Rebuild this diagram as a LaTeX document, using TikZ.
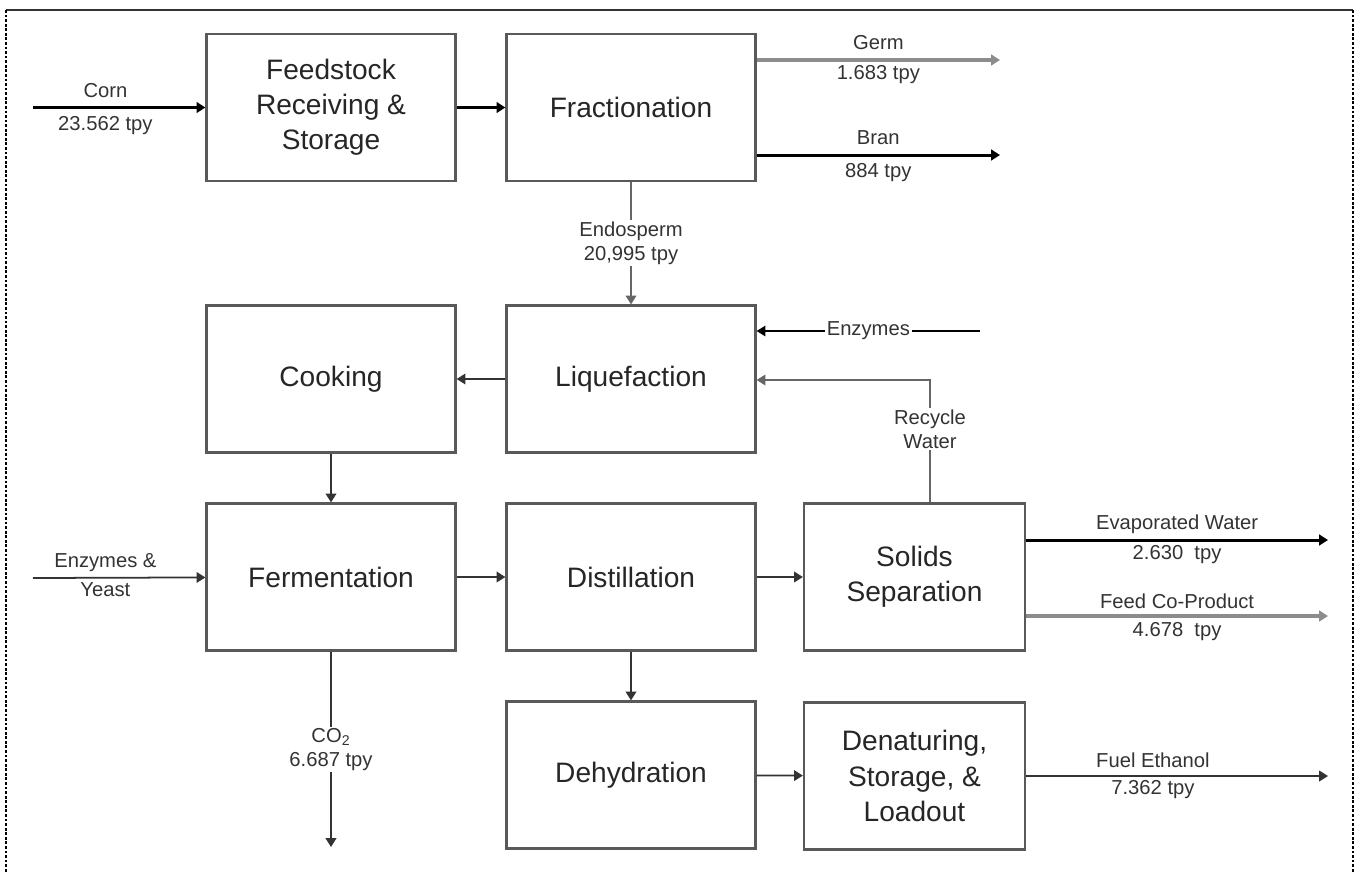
\documentclass[tikz,border=0pt]{standalone}
\usepackage{fontspec}
\setmainfont{Liberation Sans}
\usetikzlibrary{arrows.meta}

\tikzset{
  unit/.style={draw=black!65,line width=1.3pt,fill=white,minimum width=4.98cm,
    minimum height=2.94cm,inner sep=0pt,align=center,text=black!85,
    font=\fontsize{16}{20}\selectfont},
  lbl/.style={text=black!80,align=center,font=\fontsize{11.5}{13.5}\selectfont,inner sep=1pt},
  up/.style={lbl,above=4pt},
  down/.style={lbl,below=3pt},
  flow/.style={-{Triangle[length=5pt,width=6pt]},draw=black!80,line width=1pt},
  bigflow/.style={flow,draw=black,line width=1.7pt},
  grayflow/.style={flow,draw=black!45,line width=1.9pt},
  thinflow/.style={flow,draw=black,line width=0.7pt}
}

\begin{document}
\begin{tikzpicture}[x=0.02cm,y=-0.02cm]
		\useasboundingbox (0,0) rectangle (1361,873);
		
		% Frame
		\draw[black!80,line width=1.3pt] (6,10) -- (1353,10);
		\draw[black,densely dotted,line width=1.6pt] (6,10) -- (6,873);
		\draw[black,densely dotted,line width=1.6pt] (1353,10) -- (1353,873);
		
		% Process units
		\node[unit] (feed) at (331,107.5) {Feedstock\\Receiving \&\\Storage};
		\node[unit] (frac) at (631,107.5) {Fractionation};
		\node[unit] (cook) at (331,379) {Cooking};
		\node[unit] (liq) at (631,379) {Liquefaction};
		\node[unit] (ferm) at (331,577) {Fermentation};
		\node[unit] (dist) at (631,577) {Distillation};
		\node[unit,minimum width=4.42cm] (solid) at (914.5,577) {Solids\\Separation};
		\node[unit] (dehyd) at (631,775) {Dehydration};
		\node[unit,minimum width=4.42cm] (denat) at (914.5,776) {Denaturing,\\Storage, \&\\Loadout};
		
		% Free ends of streams
		\coordinate (CornIn) at (33,107.5);
		\coordinate (GermOut) at (1000,60);
		\coordinate (BranOut) at (1000,155);
		\coordinate (EnzIn) at (980,331);
		\coordinate (RW) at (930,380);
		\coordinate (YeastIn) at (33,578);
		\coordinate (EvapOut) at (1328,540);
		\coordinate (FeedOut) at (1328,616);
		\coordinate (CO2Out) at (331,847);
		\coordinate (FuelOut) at (1328,776);
		
		% Top row
		\draw[bigflow] (CornIn) -- (feed)
			node[pos=0.42,up] {Corn} node[pos=0.42,down] {23.562 tpy};
		\draw[bigflow] (feed) -- (frac);
		\draw[grayflow] (frac.east |- GermOut) -- (GermOut)
			node[midway,up] {Germ} node[midway,lbl,below=1pt] {1.683 tpy};
		\draw[bigflow] (frac.east |- BranOut) -- (BranOut)
			node[midway,up] {Bran} node[midway,down] {884 tpy};
		\draw[flow,draw=black!60] (frac) -- (liq)
			node[midway,fill=white,lbl] {Endosperm\\20,995 tpy};
		
		% Liquefaction and cooking
		\draw[thinflow] (EnzIn) -- (liq.east |- EnzIn)
			node[midway,fill=white,lbl] {Enzymes};
		\draw[flow,draw=black!60] (solid.north -| RW) -- (RW)
			node[pos=0.6,fill=white,lbl] {Recycle\\Water} -- (liq.east |- RW);
		\draw[flow] (liq) -- (cook);
		\draw[flow] (cook) -- (ferm);
		
		% Middle row
		\draw[flow] (YeastIn) -- (ferm)
			node[pos=0.42,lbl,above=2pt] {Enzymes \&} node[pos=0.42,lbl,below=1pt] {Yeast};
		\draw[flow] (ferm) -- (dist);
		\draw[flow] (dist) -- (solid);
		\draw[bigflow] (solid.east |- EvapOut) -- (EvapOut)
			node[midway,lbl,above=1.5pt] {Evaporated Water} node[midway,lbl,below=1pt] {2.630\ \ tpy};
		\draw[grayflow] (solid.east |- FeedOut) -- (FeedOut)
			node[midway,lbl,above=2.5pt] {Feed Co-Product} node[midway,lbl,below=1.5pt] {4.678\ \ tpy};
		\draw[flow] (ferm) -- (CO2Out)
			node[midway,fill=white,lbl] {CO\textsubscript{2}\\6.687 tpy};
		
		% Bottom row
		\draw[flow] (dist) -- (dehyd);
		\draw[flow] (dehyd) -- (denat);
		\draw[flow] (denat.east |- FuelOut) -- (FuelOut)
			node[pos=0.42,lbl,above=3pt] {Fuel Ethanol} node[pos=0.42,lbl,below=1pt] {7.362 tpy};
	\end{tikzpicture}
\end{document}
